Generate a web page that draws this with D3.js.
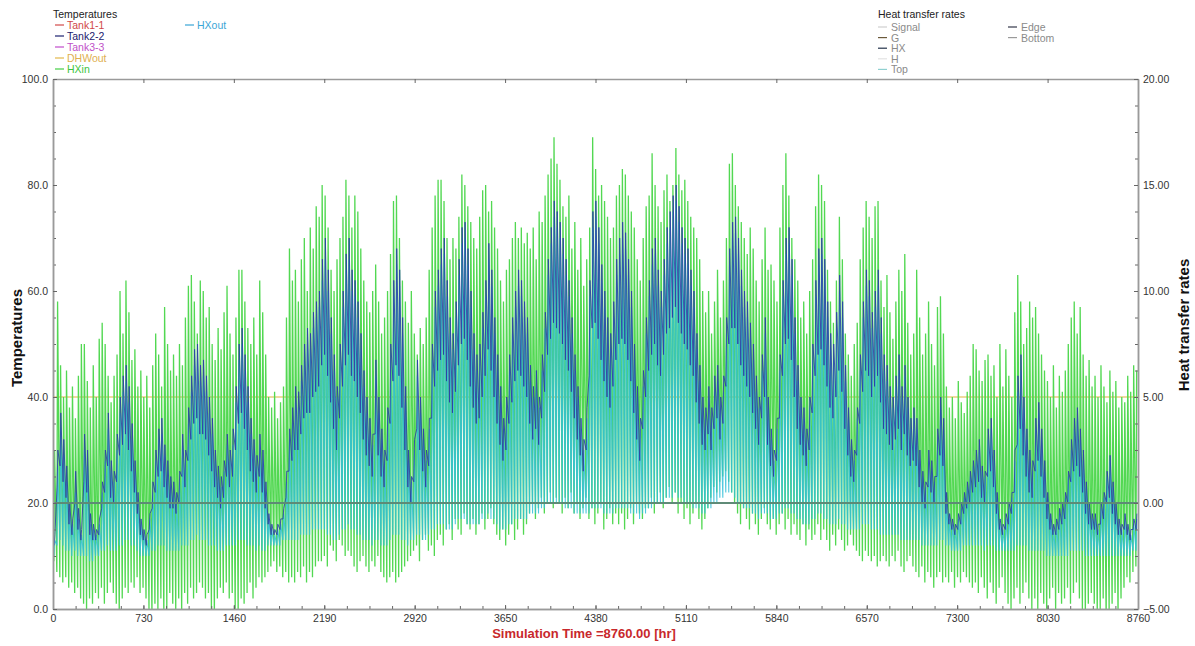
<!DOCTYPE html>
<html><head><meta charset="utf-8">
<script src="https://cdn.jsdelivr.net/npm/d3@7"></script>
<style>
html,body{margin:0;padding:0;background:#fff;}
svg{display:block;font-family:"Liberation Sans",Arial,sans-serif;}
</style></head><body>
<svg id="chart" width="1195" height="646"></svg>
<script>
// ---------------- DATA (one value per simulated day) ----------------
const xTickLabels = [0,730,1460,2190,2920,3650,4380,5110,5840,6570,7300,8030,8760];
const leftTickLabels = [0,20,40,60,80,100];
const rightTickLabels = [-5,0,5,10,15,20];

// HXin daily peak / trough (deg C)
const hxinMax = [
30,58,46,40,45,38,42,36,44,50, 50,43,38,46,40,51,54,50,44,39, 44,48,60,52,62,56,47,49,42,45,
40,44,38,46,52,48,42,57,50,45, 48,44,50,46,55,61,63,58,52,62, 60,55,57,50,47,53,49,56,61,52,
48,55,64,64,58,53,50,55,48,62, 56,48,40,38,41,36,39,42,55,68, 62,64,58,66,70,60,72,68,76,74,
80,78,72,64,60,66,70,74,81,78, 72,78,75,68,62,58,56,60,65,58, 52,55,60,67,77,78,70,62,58,54,
60,52,48,53,50,55,64,72,78,81, 81,77,70,66,70,68,74,82,80,76, 73,70,68,74,79,80,75,77,72,68,
62,58,64,66,70,73,70,72,69,71, 68,72,66,75,73,78,82,85,89,84, 81,76,74,78,68,73,64,70,61,66,
72,89,83,78,80,77,74,70,72,78, 80,83,82,78,75,72,66,62,70,76, 78,86,80,76,73,79,82,77,80,87,
82,79,81,77,74,72,70,66,60,56, 60,52,58,64,55,62,70,84,86,80, 76,73,70,67,72,68,62,58,66,72,
64,65,62,58,72,80,86,78,70,66, 62,55,58,52,60,66,76,82,80,77, 64,58,54,62,74,66,52,48,44,50,
54,66,72,77,74,70,76,77,62,57, 63,56,51,58,64,60,67,54,48,52, 64,55,48,52,58,50,46,57,59,52,
42,38,40,36,43,39,37,41,44,50, 49,45,43,47,48,44,46,40,50,42, 49,44,40,56,63,58,50,53,58,55,
57,52,48,45,43,40,46,38,44,41, 45,50,55,58,52,57,48,44,47,42, 44,40,46,42,39,45,41,43,38,40,
39,44,41,46,45];
const hxinMin = [
9,7,6,5,6,4,5,3,4,2, 1,0,2,1,3,2,4,1,3,5, 3,1,-1,2,4,3,5,4,6,3,
4,2,0,-1,1,0,2,-1,0,3, 1,0,2,-1,3,1,4,2,3,5, 4,2,3,0,-1,2,4,3,5,2,
3,0,-1,2,1,3,5,2,4,6, 5,6,7,8,9,7,8,6,7,5, 6,5,7,6,8,5,7,6,8,9,
9,10,8,12,11,9,13,12,10,11, 10,8,7,9,10,8,7,9,8,10, 7,6,5,6,7,5,6,7,8,9,
10,11,12,9,13,14,11,12,10,13, 14,12,15,16,13,17,15,14,18,16, 15,17,14,16,18,15,17,19,16,14,
13,15,12,14,16,13,15,17,14,16, 18,20,17,19,21,18,20,22,19,21, 20,18,21,19,22,18,20,17,19,21,
17,19,16,18,20,15,17,19,16,18, 16,18,15,17,19,16,20,18,17,19, 19,21,18,20,22,19,21,23,20,22,
18,20,17,19,16,18,20,17,15,17, 19,21,23,22,24,25,26,24,22,20, 18,16,19,17,15,18,16,14,17,19,
16,15,17,14,16,18,15,17,14,16, 14,13,16,12,15,13,14,16,13,15, 13,11,14,12,15,13,11,12,14,12,
11,10,9,11,10,9,10,8,9,10, 9,8,10,9,11,8,7,9,10,8, 7,6,8,5,7,6,4,6,7,5,
6,5,7,4,6,5,7,6,5,4, 5,3,6,4,2,5,3,1,4,6, 3,1,0,2,4,1,3,5,2,0,
2,0,3,1,-1,2,4,0,3,1, 2,4,1,3,5,2,0,-1,1,3, 1,-1,0,2,-2,0,1,3,-1,2,
4,6,5,7,8];

// Tank2-2 daily max / min
const tankMax = [
14,30,37,32,27,20,17,26,19,15, 33,30,18,16,15,17,24,30,37,28, 26,33,40,44,46,42,35,28,22,17,
15,14,18,24,30,34,36,31,28,25, 24,22,26,33,30,38,44,49,50,46, 47,44,40,36,30,27,25,28,33,30,
34,42,50,53,48,42,36,32,29,33, 30,24,18,16,15,16,17,19,26,34, 38,42,41,46,50,53,52,56,58,60,
66,70,64,55,48,42,50,60,67,70, 64,62,58,52,45,40,36,33,47,40, 34,30,38,50,62,68,64,55,42,30,
25,32,47,40,34,30,36,50,60,64, 68,70,62,55,52,58,66,72,73,68, 60,52,48,50,56,62,69,64,55,48,
42,36,40,48,55,60,64,62,58,55, 46,42,45,40,48,56,66,72,77,75, 73,70,66,62,55,48,42,36,32,38,
62,75,77,72,65,60,55,52,58,66, 70,73,71,66,60,50,42,36,45,55, 62,68,70,64,60,66,72,75,78,80,
76,72,70,68,64,60,52,46,40,38, 42,38,44,46,40,44,55,68,73,74, 70,64,60,58,54,50,44,40,48,55,
40,34,30,36,48,62,70,72,66,55, 46,40,38,34,40,50,62,68,70,66, 58,52,50,56,63,58,46,38,32,30,
38,48,58,64,62,56,60,64,55,48, 46,42,40,44,48,42,46,40,36,38, 36,30,26,24,30,28,25,34,40,36,
22,18,17,16,18,20,22,24,26,28, 30,32,27,26,34,36,30,22,17,16, 18,20,22,30,44,48,40,34,30,28,
36,39,34,28,22,18,16,17,19,20, 22,26,32,36,38,34,30,24,20,18, 18,16,20,22,26,29,24,20,17,16,
18,16,15,17,18];
const tankMin = [
12,23,27,24,21,16,14,20,15,13, 24,22,14,13,13,14,19,22,27,21, 20,24,29,31,33,30,26,22,18,14,
13,12,15,19,22,25,26,23,21,19, 19,18,20,25,23,28,32,35,36,33, 33,32,29,26,23,21,19,21,25,23,
25,30,35,37,34,30,26,24,22,25, 22,19,16,14,14,14,15,17,21,26, 28,30,30,33,36,37,37,40,41,42,
46,48,44,39,34,30,36,42,46,48, 44,43,40,37,32,29,27,25,33,29, 25,23,28,35,43,46,44,38,30,23,
20,24,34,30,26,23,27,36,42,45, 47,48,43,39,37,41,46,50,51,47, 42,38,35,36,40,44,49,45,40,35,
31,28,30,35,39,43,45,44,42,40, 35,32,34,31,36,41,48,51,54,53, 52,50,47,45,41,36,32,29,26,30,
44,53,54,51,47,43,40,38,42,47, 50,51,50,47,43,37,32,28,34,40, 45,48,50,46,44,48,52,53,55,57,
54,52,50,49,46,44,39,35,31,30, 33,30,34,36,32,35,42,50,53,53, 50,46,44,42,40,37,34,31,36,40,
31,27,25,28,36,44,50,51,47,40, 34,31,29,27,30,37,44,48,49,46, 42,38,36,40,45,41,34,29,25,24,
29,35,41,45,44,40,42,44,39,34, 33,31,30,32,34,30,33,29,27,28, 27,23,20,19,23,22,20,25,29,27,
18,16,15,14,15,16,18,19,20,22, 23,24,21,20,25,26,23,18,15,14, 15,16,18,22,31,34,29,25,22,21,
26,28,25,21,17,15,14,14,15,16, 17,20,24,26,27,25,22,18,16,15, 15,14,16,17,20,21,18,16,14,14,
15,14,13,15,15];

// HXout daily max / min
const hxoutMax = [
13,27,34,29,24,18,16,22,17,14, 30,27,16,15,14,16,22,28,34,26, 24,30,37,41,43,39,32,26,20,16,
14,13,17,22,28,32,33,29,26,23, 22,20,24,31,28,35,41,46,47,43, 44,41,37,33,28,25,23,26,31,28,
31,39,47,50,45,39,33,30,27,31, 28,22,17,15,14,15,16,18,24,32, 35,39,38,43,47,50,49,53,55,57,
62,66,60,52,45,40,47,57,64,66, 60,59,55,49,42,37,33,31,44,37, 32,28,36,47,59,65,61,52,39,28,
24,30,44,37,32,28,34,47,57,61, 65,67,59,52,49,55,63,69,70,65, 57,49,45,47,53,59,66,61,52,45,
39,34,38,45,52,57,61,59,55,52, 43,40,42,38,45,53,63,69,74,72, 70,67,63,59,52,45,40,34,30,36,
59,72,74,69,62,57,52,49,55,63, 67,70,68,63,57,47,40,34,42,52, 59,65,67,61,57,63,69,72,75,77,
73,69,67,65,61,57,49,43,38,36, 40,36,41,43,38,41,52,65,70,71, 67,61,57,55,51,47,41,38,45,52,
38,32,28,34,45,59,67,69,63,52, 43,38,36,32,38,47,59,65,67,63, 55,49,47,53,60,55,43,36,30,28,
36,45,55,61,59,53,57,61,52,45, 43,40,38,42,45,40,44,38,34,36, 34,28,25,23,28,26,24,32,38,34,
20,17,16,15,17,19,21,23,25,27, 28,30,26,25,32,34,28,21,16,15, 17,19,21,28,41,45,38,32,28,26,
34,37,32,26,21,17,15,16,18,19, 21,25,30,34,36,32,28,23,19,17, 17,15,19,21,25,28,23,19,16,15,
17,15,14,16,17];
const hxoutMin = [
10,12,13,12,11,11,10,11,10,10, 10,10,9,9,10,10,11,11,12,11, 11,11,12,12,13,13,12,12,11,10,
10,10,10,11,11,12,12,12,11,11, 11,11,11,12,12,12,13,13,14,13, 13,13,12,12,12,11,11,11,12,12,
12,12,13,13,13,12,12,12,11,12, 11,11,12,12,12,12,12,13,13,13, 13,13,13,14,14,14,14,15,15,15,
15,15,14,14,13,13,14,15,15,16, 15,15,14,14,13,13,13,12,13,13, 12,12,12,13,14,14,14,13,13,12,
13,13,14,14,13,13,14,15,15,16, 16,16,15,15,15,16,17,17,17,16, 16,16,16,16,17,17,18,17,17,16,
15,15,15,16,16,17,17,17,17,17, 18,18,18,18,19,19,20,20,20,20, 20,20,19,19,19,18,18,18,18,18,
18,19,19,19,19,18,18,18,18,19, 19,19,19,19,18,18,18,17,18,18, 19,19,20,20,20,20,21,21,21,22,
21,21,20,20,20,19,19,19,18,18, 19,19,20,20,21,21,22,22,22,21, 20,20,19,19,19,18,18,17,18,18,
18,17,17,17,18,18,19,19,18,18, 17,17,16,16,16,17,17,18,18,17, 17,16,16,16,17,16,16,15,15,15,
15,15,16,16,16,15,15,15,14,14, 14,14,14,14,14,13,13,13,13,13, 13,13,12,12,12,12,12,12,13,13,
12,12,11,11,11,11,12,12,12,12, 12,12,12,11,12,12,12,11,11,11, 11,11,11,11,12,12,12,12,11,11,
11,11,11,11,10,10,10,10,10,10, 10,10,11,11,11,11,11,10,10,10, 10,10,10,10,10,10,10,10,10,10,
10,10,10,11,11];

const dhwOutLevel = 40;          // DHWout (deg C), flat over the year
const heatRateLevel = 0;         // all heat transfer rates stay at 0.00

const tempSeries = [
  {name:"Tank1-1", color:"#d24a4a", text:"#d04848"},
  {name:"Tank2-2", color:"#1c2070", text:"#1a1a6e"},
  {name:"Tank3-3", color:"#c24ccc", text:"#c050c8"},
  {name:"DHWout",  color:"#e3b84a", text:"#e0b050"},
  {name:"HXin",    color:"#44cf44", text:"#3cc43c"},
  {name:"HXout",   color:"#3aa6d6", text:"#3aa6d6"}
];
const rateSeries = [
  {name:"Signal", color:"#cfcfcf"},
  {name:"G",      color:"#6b5a3a"},
  {name:"HX",     color:"#22324a"},
  {name:"H",      color:"#e2e2e2"},
  {name:"Top",    color:"#8fd0d0"},
  {name:"Edge",   color:"#34384a"},
  {name:"Bottom", color:"#9a9a9a"}
];

// ---------------- DRAWING ----------------
const svg = d3.select("#chart");
const L = 53, R = 1138, T = 79, B = 609;
const x = d3.scaleLinear().domain([0, 8760]).range([L, R]);
const y = d3.scaleLinear().domain([0, 100]).range([B, T]);
const yR = d3.scaleLinear().domain([-5, 20]).range([B, T]);

svg.append("defs").append("clipPath").attr("id","clip")
  .append("rect").attr("x",L).attr("y",T).attr("width",R-L).attr("height",B-T);

const plot = svg.append("g").attr("clip-path","url(#clip)");

function dailyPoints(mins, maxs, hMin, hMax){
  const pts = [];
  for (let d = 0; d < mins.length; d++){
    pts.push([d*24 + hMin, mins[d]]);
    pts.push([d*24 + hMax, maxs[d]]);
  }
  return pts;
}
const line = d3.line().x(p => x(p[0])).y(p => y(p[1]));

// DHWout
plot.append("line").attr("x1",x(0)).attr("x2",x(8760))
  .attr("y1",y(dhwOutLevel)).attr("y2",y(dhwOutLevel))
  .attr("stroke","#e0b640").attr("stroke-width",1.2);

// HXin
plot.append("path").datum(dailyPoints(hxinMin, hxinMax, 7, 13))
  .attr("d", line).attr("fill","none").attr("stroke","#52d852").attr("stroke-width",1.3);
// HXout
plot.append("path").datum(dailyPoints(hxoutMin, hxoutMax, 8, 14))
  .attr("d", line).attr("fill","none").attr("stroke","#34c0d8").attr("stroke-width",1.1).attr("opacity",0.85);
// Tank2-2
plot.append("path").datum(dailyPoints(tankMin, tankMax, 9, 15))
  .attr("d", line).attr("fill","none").attr("stroke","#2b3ea8").attr("stroke-width",1.0).attr("opacity",0.85);

// heat transfer rates (right axis), all at zero
rateSeries.forEach(s => {
  plot.append("line").attr("x1",x(0)).attr("x2",x(8760))
    .attr("y1",yR(heatRateLevel)).attr("y2",yR(heatRateLevel))
    .attr("stroke", "#5f8a76").attr("stroke-width",1.0);
});

// ---------------- AXES ----------------
const axisColor = "#9a9a9a";
function styleAxis(g){
  g.selectAll("path.domain").attr("stroke",axisColor).attr("stroke-width",1.5);
  g.selectAll(".tick line").attr("stroke","#666");
  g.selectAll("text").attr("fill","#333").style("font-size","10.5px")
    .style("font-family",'"Liberation Sans",Arial,sans-serif');
}
const minorX = d3.range(0, 8761, 182.5);
svg.append("g").attr("transform",`translate(0,${B})`)
  .call(d3.axisBottom(x).tickValues(minorX).tickFormat("").tickSize(-3).tickSizeOuter(0)).call(styleAxis);
svg.append("g").attr("transform",`translate(0,${B})`)
  .call(d3.axisBottom(x).tickValues(xTickLabels).tickFormat(d3.format("d")).tickSize(-4).tickSizeOuter(0).tickPadding(6))
  .call(styleAxis);
svg.append("g").attr("transform",`translate(0,${T})`)
  .call(d3.axisTop(x).tickValues(xTickLabels).tickFormat("").tickSize(-4).tickSizeOuter(0)).call(styleAxis);

svg.append("g").attr("transform",`translate(${L},0)`)
  .call(d3.axisLeft(y).tickValues(d3.range(0,101,5)).tickFormat("").tickSize(-3).tickSizeOuter(0)).call(styleAxis);
svg.append("g").attr("transform",`translate(${L},0)`)
  .call(d3.axisLeft(y).tickValues(leftTickLabels).tickFormat(d3.format(".1f")).tickSize(-4).tickSizeOuter(0).tickPadding(5))
  .call(styleAxis);

svg.append("g").attr("transform",`translate(${R},0)`)
  .call(d3.axisRight(yR).tickValues(d3.range(-5,20.01,1.25)).tickFormat("").tickSize(-3).tickSizeOuter(0)).call(styleAxis);
svg.append("g").attr("transform",`translate(${R},0)`)
  .call(d3.axisRight(yR).tickValues(rightTickLabels).tickFormat(d3.format(".2f")).tickSize(-4).tickSizeOuter(0).tickPadding(5))
  .call(styleAxis);

// axis titles
svg.append("text").attr("transform",`translate(18,338) rotate(-90)`)
  .attr("text-anchor","middle").attr("dominant-baseline","middle").style("font-weight","bold").style("font-size","15px").attr("fill","#111")
  .text("Temperatures");
svg.append("text").attr("transform",`translate(1185,325) rotate(-90)`)
  .attr("text-anchor","middle").attr("dominant-baseline","middle").style("font-weight","bold").style("font-size","15px").attr("fill","#111")
  .text("Heat transfer rates");
svg.append("text").attr("x",584).attr("y",638).attr("text-anchor","middle")
  .style("font-weight","bold").style("font-size","13px").attr("fill","#c8282c")
  .text("Simulation Time =8760.00 [hr]");

// ---------------- LEGENDS ----------------
const lg = svg.append("g").style("font-size","10.5px");
lg.append("text").attr("x",53).attr("y",18).attr("fill","#222").text("Temperatures");
tempSeries.forEach((s,i) => {
  const col = i < 5 ? 0 : 1;
  const row = i < 5 ? i : 0;
  const gx = col === 0 ? 55 : 185;
  const gy = 25 + row*11;
  lg.append("line").attr("x1",gx).attr("x2",gx+9).attr("y1",gy).attr("y2",gy)
    .attr("stroke",s.color).attr("stroke-width",1.2);
  lg.append("text").attr("x",gx+12).attr("y",gy+4).attr("fill",s.text).text(s.name);
});
lg.append("text").attr("x",878).attr("y",18).attr("fill","#222").text("Heat transfer rates");
rateSeries.forEach((s,i) => {
  const col = i < 5 ? 0 : 1;
  const row = i < 5 ? i : i-5;
  const gx = col === 0 ? 878 : 1008;
  const gy = 27 + row*10.6;
  lg.append("line").attr("x1",gx).attr("x2",gx+9).attr("y1",gy).attr("y2",gy)
    .attr("stroke",s.color).attr("stroke-width",1.2);
  lg.append("text").attr("x",gx+13).attr("y",gy+4).attr("fill","#8a8a8a").text(s.name);
});
</script>
</body></html>
